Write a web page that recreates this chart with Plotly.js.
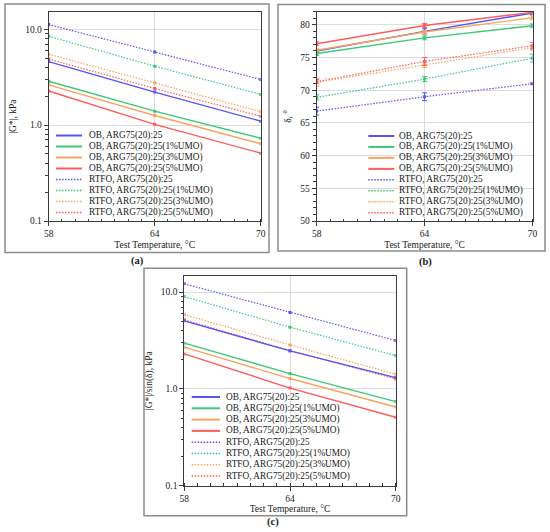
<!DOCTYPE html>
<html>
<head>
<meta charset="utf-8">
<script src="https://cdn.plot.ly/plotly-3.0.1.min.js"></script>
<style>html,body{margin:0;padding:0;background:#fff;}#chart{width:550px;height:532px;}</style>
</head>
<body>
<div id="chart"></div>
<script>
// ---------- data ----------
const temps = [58, 64, 70];
const xTickVals = [58, 64, 70];
const xTickText = ["58", "64", "70"];
const logTickVals = [0.1, 1, 10];
const logTickText = ["0.1", "1.0", "10.0"];
const deltaTickVals = [50, 55, 60, 65, 70, 75, 80];

const legendLabels = [
  "OB, ARG75(20):25",
  "OB, ARG75(20):25(1%UMO)",
  "OB, ARG75(20):25(3%UMO)",
  "OB, ARG75(20):25(5%UMO)",
  "RTFO, ARG75(20):25",
  "RTFO, ARG75(20):25(1%UMO)",
  "RTFO, ARG75(20):25(3%UMO)",
  "RTFO, ARG75(20):25(5%UMO)"
];
const seriesColors = ["#5555f2", "#3ec87a", "#f7a55e", "#ff5c5c", "#5555f2", "#3ec87a", "#f7a55e", "#ff5c5c"];

// (a) |G*|, kPa
const gStar_OB_0 = [4.60, 2.21, 1.10];
const gStar_OB_1 = [2.87, 1.40, 0.73];
const gStar_OB_3 = [2.63, 1.26, 0.64];
const gStar_OB_5 = [2.27, 1.02, 0.51];
const gStar_RT_0 = [11.2, 5.80, 2.99];
const gStar_RT_1 = [8.45, 4.12, 2.09];
const gStar_RT_3 = [5.50, 2.76, 1.38];
const gStar_RT_5 = [4.90, 2.41, 1.24];

// (b) phase angle delta, degrees
const delta_OB_0 = [76.0, 79.0, 81.8];
const delta_OB_1 = [75.6, 78.0, 79.85];
const delta_OB_3 = [76.1, 78.9, 81.1];
const delta_OB_5 = [77.1, 79.9, 81.9];
const delta_RT_0 = [66.8, 69.0, 71.0];
const delta_RT_1 = [68.9, 71.7, 74.9];
const delta_RT_3 = [71.2, 73.9, 76.5];
const delta_RT_5 = [71.3, 74.4, 76.8];
const deltaErr_OB_0 = [0.2, 0.4, 0.2];
const deltaErr_OB_1 = [0.3, 0.3, 0.3];
const deltaErr_OB_3 = [0.2, 0.2, 0.3];
const deltaErr_OB_5 = [0.3, 0.3, 0.2];
const deltaErr_RT_0 = [0.6, 0.6, 0.1];
const deltaErr_RT_1 = [0.4, 0.4, 0.6];
const deltaErr_RT_3 = [0.6, 0.4, 0.4];
const deltaErr_RT_5 = [0.3, 0.6, 0.5];

// (c) |G*|/sin(delta), kPa
const gSin_OB_0 = [5.05, 2.47, 1.31];
const gSin_OB_1 = [2.97, 1.44, 0.74];
const gSin_OB_3 = [2.70, 1.28, 0.65];
const gSin_OB_5 = [2.30, 1.02, 0.51];
const gSin_RT_0 = [12.2, 6.17, 3.16];
const gSin_RT_1 = [9.00, 4.35, 2.21];
const gSin_RT_3 = [5.84, 2.85, 1.42];
const gSin_RT_5 = [5.18, 2.49, 1.27];

const panelA = [gStar_OB_0, gStar_OB_1, gStar_OB_3, gStar_OB_5, gStar_RT_0, gStar_RT_1, gStar_RT_3, gStar_RT_5];
const panelB = [delta_OB_0, delta_OB_1, delta_OB_3, delta_OB_5, delta_RT_0, delta_RT_1, delta_RT_3, delta_RT_5];
const panelBErr = [deltaErr_OB_0, deltaErr_OB_1, deltaErr_OB_3, deltaErr_OB_5, deltaErr_RT_0, deltaErr_RT_1, deltaErr_RT_3, deltaErr_RT_5];
const panelC = [gSin_OB_0, gSin_OB_1, gSin_OB_3, gSin_OB_5, gSin_RT_0, gSin_RT_1, gSin_RT_3, gSin_RT_5];

// ---------- helpers ----------
const W = 550, H = 532;
const px = v => v / W;
const py = v => 1 - v / H;
const FONT = "Liberation Serif, Times New Roman, serif";
const TXT = "#1a1a1a";
const DOT = "1.5px,1.5px";

function makeTraces(values, xa, ya, errs) {
  const out = [];
  const order = [4, 5, 6, 7, 0, 1, 2, 3];
  order.forEach(i => {
    const t = {
      x: temps, y: values[i], xaxis: xa, yaxis: ya, type: "scatter",
      mode: "lines+markers", name: legendLabels[i], showlegend: false,
      line: { color: seriesColors[i], width: i < 4 ? 1.4 : 1.2, dash: i < 4 ? "solid" : DOT },
      marker: { symbol: "square", size: 3, color: seriesColors[i] },
      hoverinfo: "skip"
    };
    if (errs) t.error_y = { type: "data", array: errs[i], visible: true, color: seriesColors[i], thickness: 1, width: 2.5 };
    out.push(t);
  });
  return out;
}

const data = [].concat(
  makeTraces(panelA, "x", "y"),
  makeTraces(panelB, "x2", "y2", panelBErr),
  makeTraces(panelC, "x3", "y3")
);

const TICKF = { family: FONT, size: 9.5, color: TXT };
const TITLEF = { family: FONT, size: 9.5, color: TXT };

function xAxis(domain, anchor) {
  return {
    domain: domain, anchor: anchor, range: [58, 70], tickmode: "array",
    tickvals: xTickVals, ticktext: xTickText, showline: true, mirror: true,
    linecolor: "#3a3a3a", linewidth: 1, ticks: "outside", ticklen: 4, tickcolor: "#3a3a3a",
    showgrid: true, gridcolor: "#dcdcdc", gridwidth: 1, zeroline: false,
    tickfont: TICKF,
    minor: { dtick: 0.75, tick0: 58, ticks: "inside", ticklen: 2.5, tickcolor: "#3a3a3a", showgrid: false },
    title: { text: "Test Temperature, \u00B0C", font: TITLEF, standoff: 2 }
  };
}
function logAxis(domain, anchor, range, titleText) {
  const minorVals = [];
  [0.1, 1].forEach(d => { for (let k = 2; k <= 9; k++) minorVals.push(+(d * k).toFixed(2)); });
  minorVals.push(20);
  return {
    domain: domain, anchor: anchor, type: "log", range: range, tickmode: "array",
    tickvals: logTickVals, ticktext: logTickText, showline: true, mirror: true,
    linecolor: "#3a3a3a", linewidth: 1, ticks: "outside", ticklen: 4, tickcolor: "#3a3a3a",
    showgrid: true, gridcolor: "#dcdcdc", zeroline: false,
    tickfont: TICKF,
    minor: { tickmode: "array", tickvals: minorVals, ticks: "outside", ticklen: 2.5, tickcolor: "#3a3a3a", showgrid: false },
    title: { text: titleText, font: TITLEF, standoff: 6 }
  };
}

const layout = {
  width: W, height: H,
  margin: { l: 0, r: 0, t: 0, b: 0 },
  paper_bgcolor: "#ffffff", plot_bgcolor: "#ffffff",
  showlegend: false,
  font: { family: FONT, size: 10, color: TXT },
  xaxis: xAxis([px(48.7), px(260.7)], "y"),
  yaxis: logAxis([py(221), py(12.3)], "x", [-1, 1.177], "|G*|, kPa"),
  xaxis2: xAxis([px(316.7), px(532.5)], "y2"),
  yaxis2: {
    domain: [py(221), py(11.7)], anchor: "x2", range: [50, 82], tickmode: "array",
    tickvals: deltaTickVals, showline: true, mirror: true,
    linecolor: "#3a3a3a", linewidth: 1, ticks: "outside", ticklen: 4, tickcolor: "#3a3a3a",
    showgrid: true, gridcolor: "#dcdcdc", zeroline: false,
    tickfont: TICKF,
    minor: { dtick: 1, tick0: 50, ticks: "outside", ticklen: 2.5, tickcolor: "#3a3a3a", showgrid: false },
    title: { text: "\u03B4, \u00B0", font: TITLEF, standoff: 6 }
  },
  xaxis3: xAxis([px(184.3), px(395.7)], "y3"),
  yaxis3: logAxis([py(485.7), py(275.7)], "x3", [-1, 1.17], "|G*|/sin(\u03B4), kPa"),
  shapes: [],
  annotations: []
};

// panel frames
[[5, 4, 269, 252.5], [278, 4.5, 545, 251], [144, 268.3, 406.7, 515.7]].forEach(f => {
  layout.shapes.push({ type: "rect", xref: "paper", yref: "paper", x0: px(f[0]), x1: px(f[2]), y0: py(f[3]), y1: py(f[1]),
    line: { color: "#8c8c8c", width: 1.5 }, fillcolor: "rgba(0,0,0,0)", layer: "below" });
});

// panel letters
[["(a)", 137.7, 261], ["(b)", 425, 262], ["(c)", 273, 521.5]].forEach(l => {
  layout.annotations.push({ xref: "paper", yref: "paper", x: px(l[1]), y: py(l[2]), text: "<b>" + l[0] + "</b>",
    showarrow: false, xanchor: "center", yanchor: "middle", font: { family: FONT, size: 10.5, color: TXT } });
});

// compact legends: [lineX0, lineX1, textX, firstRowY, rowStep]
const legendGeo = [[56, 82, 86.5, 135.5, 11.0], [368.3, 394.3, 397, 136, 10.95], [191.7, 220, 223.5, 397, 11.3]];
legendGeo.forEach(g => {
  legendLabels.forEach((lab, i) => {
    const yy = g[3] + i * g[4];
    layout.shapes.push({ type: "line", xref: "paper", yref: "paper", x0: px(g[0]), x1: px(g[1]), y0: py(yy), y1: py(yy),
      line: { color: seriesColors[i], width: i < 4 ? 2 : 1.5, dash: i < 4 ? "solid" : DOT }, layer: "above" });
    layout.annotations.push({ xref: "paper", yref: "paper", x: px(g[2]), y: py(yy), text: lab, showarrow: false,
      xanchor: "left", yanchor: "middle", font: { family: FONT, size: 9.3, color: TXT } });
  });
});

Plotly.newPlot("chart", data, layout, { staticPlot: true, displayModeBar: false });
</script>
</body>
</html>
